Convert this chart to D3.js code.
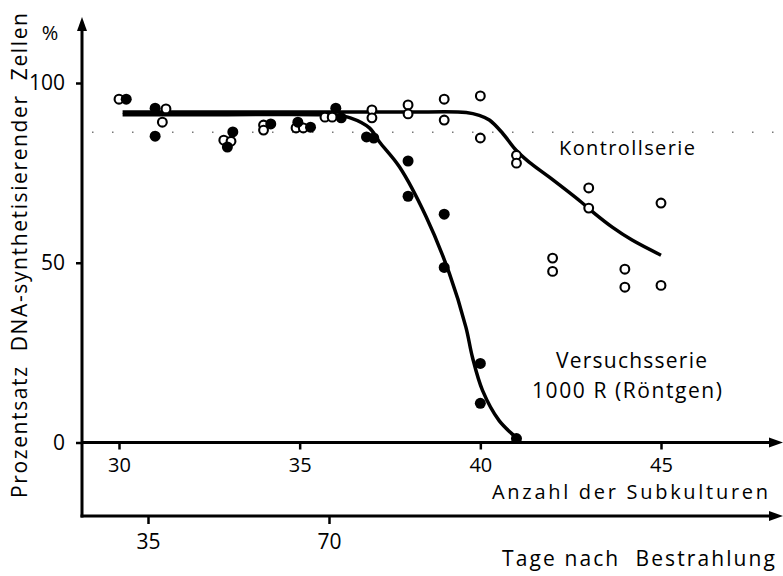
<!DOCTYPE html>
<html>
<head>
<meta charset="utf-8">
<script src="https://cdn.jsdelivr.net/npm/d3@7"></script>
<style>
  body { margin: 0; background: #fff; }
  text { font-family: "Open Sans", sans-serif; fill: #000; white-space: pre; }
</style>
</head>
<body>
<div id="chart"></div>
<script>
// Set width and height
var svgWidth = 783;
var svgHeight = 576;

// Kontrollserie (open circles): subculture, percent
var kontrollX = [30.0, 31.3, 31.2, 32.9, 33.1, 34.0, 34.0, 34.9, 35.1, 35.7, 35.9, 37.0, 37.0, 38.0, 38.0,
                 39.0, 39.0, 40.0, 40.0, 41.0, 41.0, 42.0, 42.0, 43.0, 43.0, 44.0, 44.0, 45.0, 45.0];
var kontrollY = [95.5, 92.8, 89.1, 84.1, 83.8, 88.3, 86.9, 87.5, 87.5, 90.5, 90.5, 92.5, 90.3, 93.9, 91.4,
                 95.5, 89.7, 96.4, 84.7, 79.9, 77.7, 51.3, 47.6, 70.8, 65.2, 48.2, 43.2, 66.6, 43.7];

// Versuchsserie 1000 R (filled circles)
var versuchX = [30.2, 31.0, 31.0, 33.15, 33.0, 34.2, 34.95, 35.3, 36.0, 36.15, 36.85, 37.05,
                38.0, 38.0, 39.0, 39.0, 40.0, 40.0, 41.0];
var versuchY = [95.5, 93.0, 85.2, 86.4, 82.2, 88.6, 89.1, 87.7, 93.0, 90.3, 85.0, 84.7,
                78.3, 68.5, 63.5, 48.7, 22.0, 10.9, 1.1];

// Hand drawn curves
var kontrollCurveX = [30.1, 33, 36, 38, 39.61, 39.97, 40.25, 40.61, 40.99, 41.35, 41.91, 42.79, 43.15, 43.65, 44.2, 45.0];
var kontrollCurveY = [91.9, 91.9, 91.9, 91.9, 91.8, 91.0, 89.7, 86.1, 81.3, 78.0, 73.8, 66.9, 63.8, 59.9, 56.3, 52.1];
var versuchCurveX = [30.1, 33, 35.5, 36.0, 36.4, 36.93, 37.21, 37.76, 38.5, 39.14, 39.6, 39.78, 40.06, 40.52, 41.08];
var versuchCurveY = [91.2, 91.2, 91.2, 91.0, 90.3, 87.5, 83.6, 76.7, 62.8, 47.1, 32.1, 23.8, 14.5, 6.1, 0.6];

// Axis ticks
var yTicks = [0, 50, 100];
var xTicks = [30, 35, 40, 45];
var dayTicks = [35, 70];
var refLine = 86.3;

var svg = d3.select("#chart").append("svg")
    .attr("width", svgWidth)
    .attr("height", svgHeight);

// Scales
var x = d3.scaleLinear().domain([30, 45]).range([119, 661]);
var y = d3.scaleLinear().domain([0, 100]).range([442.5, 83]);
var xDays = d3.scaleLinear().domain([35, 70]).range([148, 329]);

var axisX0 = 82;
var axisY1 = y(0);
var axisY2 = 516;

// Dotted reference line
svg.append("line")
    .attr("x1", 92).attr("x2", 783)
    .attr("y1", y(refLine)).attr("y2", y(refLine))
    .attr("stroke", "#777")
    .attr("stroke-width", 1.6)
    .attr("stroke-dasharray", "1.5,18.5");

// Arrow heads
function arrow(tipX, tipY, dir) {
    var p;
    if (dir === "up") p = [[tipX, tipY], [tipX - 5, tipY + 14], [tipX + 5, tipY + 14]];
    else p = [[tipX, tipY], [tipX - 14, tipY - 5], [tipX - 14, tipY + 5]];
    svg.append("path").attr("d", d3.line()(p) + "Z").attr("fill", "#000");
}

// Axis lines
svg.append("line").attr("x1", axisX0).attr("x2", axisX0)
    .attr("y1", axisY2 + 1.5).attr("y2", 28)
    .attr("stroke", "#000").attr("stroke-width", 3);
arrow(axisX0, 17, "up");
svg.append("line").attr("x1", axisX0).attr("x2", 772)
    .attr("y1", axisY1).attr("y2", axisY1)
    .attr("stroke", "#000").attr("stroke-width", 3);
arrow(783, axisY1, "right");
svg.append("line").attr("x1", axisX0 - 1.5).attr("x2", 772)
    .attr("y1", axisY2).attr("y2", axisY2)
    .attr("stroke", "#000").attr("stroke-width", 3);
arrow(783, axisY2, "right");

// Y axis ticks
var yAxis = svg.append("g")
    .attr("transform", `translate(${axisX0}, 0)`)
    .call(d3.axisLeft(y).tickValues(yTicks).tickSize(6).tickPadding(11));
// X axis ticks (subcultures)
var xAxis = svg.append("g")
    .attr("transform", `translate(0, ${axisY1})`)
    .call(d3.axisBottom(x).tickValues(xTicks).tickSize(7).tickPadding(8));
// Days axis
var dayAxis = svg.append("g")
    .attr("transform", `translate(0, ${axisY2})`)
    .call(d3.axisBottom(xDays).tickValues(dayTicks).tickSize(8).tickPadding(10));

[yAxis, xAxis, dayAxis].forEach(function(g) {
    g.select(".domain").remove();
    g.selectAll(".tick line").attr("stroke", "#000").attr("stroke-width", 2.5);
    g.selectAll(".tick text")
        .style("font-family", "'Open Sans', sans-serif")
        .style("font-size", "21px")
        .attr("fill", "#000");
});
xAxis.selectAll(".tick text").style("font-size", "20px");

// Curves
var line = d3.line()
    .x(d => x(d[0]))
    .y(d => y(d[1]))
    .curve(d3.curveCatmullRom.alpha(0.5));

svg.append("path")
    .datum(kontrollCurveX.map((v, i) => [v, kontrollCurveY[i]]))
    .attr("d", line)
    .attr("fill", "none").attr("stroke", "#000").attr("stroke-width", 3.5);
svg.append("path")
    .datum(versuchCurveX.map((v, i) => [v, versuchCurveY[i]]))
    .attr("d", line)
    .attr("fill", "none").attr("stroke", "#000").attr("stroke-width", 3.5);

// Open circles (Kontrollserie)
svg.selectAll(".open")
    .data(kontrollX.map((v, i) => [v, kontrollY[i]]))
    .enter().append("circle")
    .attr("class", "open")
    .attr("cx", d => x(d[0]))
    .attr("cy", d => y(d[1]))
    .attr("r", 4.4)
    .attr("fill", "#fff")
    .attr("stroke", "#000")
    .attr("stroke-width", 2.1);

// Filled circles (Versuchsserie)
svg.selectAll(".filled")
    .data(versuchX.map((v, i) => [v, versuchY[i]]))
    .enter().append("circle")
    .attr("class", "filled")
    .attr("cx", d => x(d[0]))
    .attr("cy", d => y(d[1]))
    .attr("r", 5.5)
    .attr("fill", "#000");

// Labels, stretched to the widths of the original lettering
function label(txt, px, py, width, size) {
    return svg.append("text")
        .attr("x", px).attr("y", py)
        .attr("textLength", width)
        .attr("lengthAdjust", "spacing")
        .style("font-size", (size || 21) + "px")
        .text(txt);
}
svg.append("text").attr("x", 50).attr("y", 40)
    .attr("text-anchor", "middle")
    .style("font-size", "20px")
    .text("%");
label("Kontrollserie", 559, 155, 136, 20);
label("Versuchsserie", 556, 368, 151);
label("1000 R (Röntgen)", 532, 398, 190);
label("Anzahl der Subkulturen", 492, 499, 276, 20);
label("Tage nach  Bestrahlung", 502, 566, 273);

svg.append("text")
    .attr("transform", "translate(27, 498) rotate(-90)")
    .attr("textLength", 485)
    .attr("lengthAdjust", "spacing")
    .style("font-size", "21px")
    .text("Prozentsatz  DNA-synthetisierender  Zellen");
</script>
</body>
</html>
